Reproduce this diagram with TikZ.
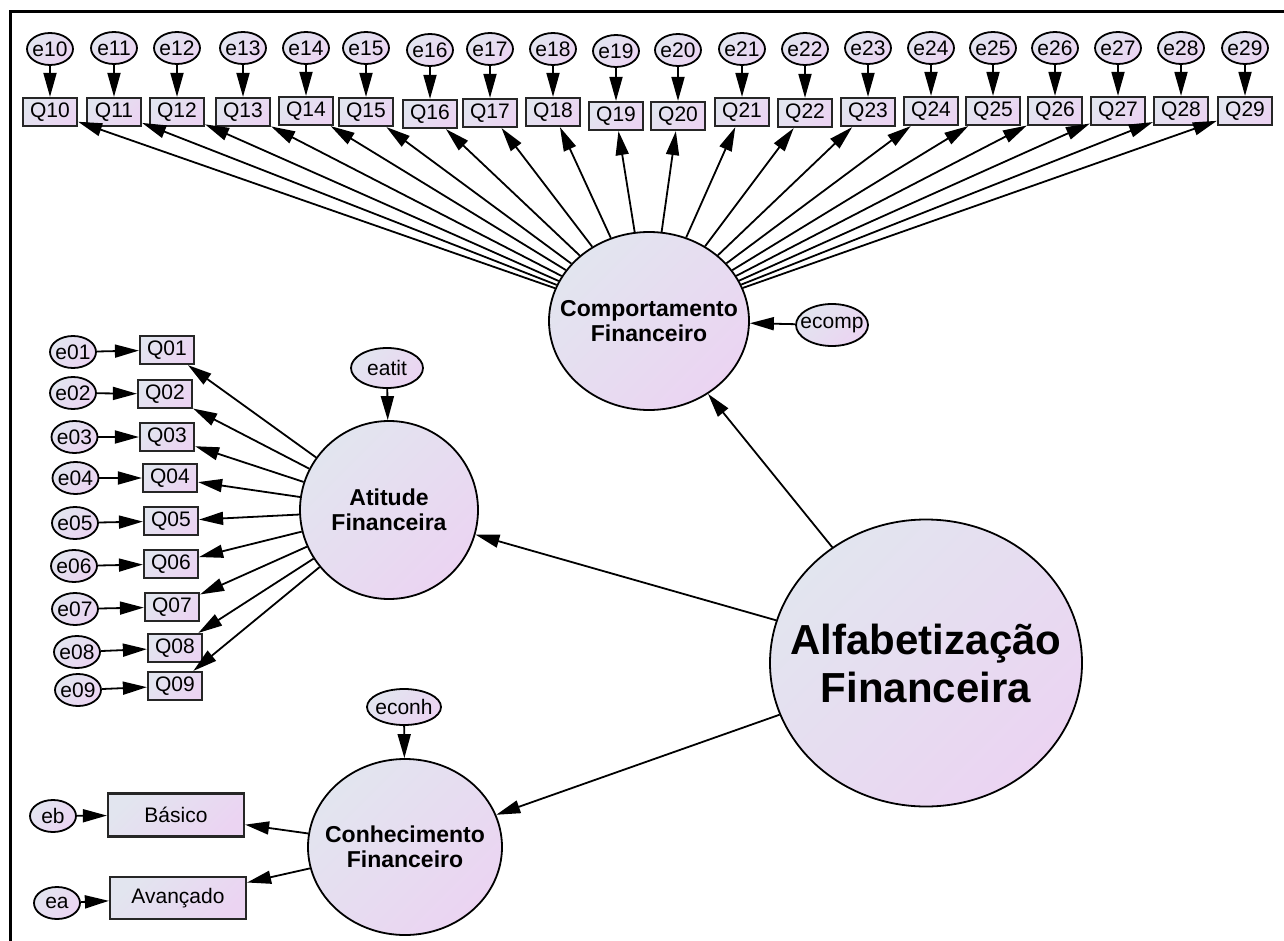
\documentclass[tikz,border=0pt]{standalone}
\usepackage{fontspec}
\setmainfont{Liberation Sans}
\usetikzlibrary{shapes.geometric,arrows.meta}
\definecolor{shadeA}{RGB}{226,229,239}
\definecolor{shadeB}{RGB}{235,212,242}
\tikzset{
  grad/.style={top color=shadeA, bottom color=shadeB, shading angle=45},
  errnode/.style={ellipse, draw=black, line width=1.8pt, grad, inner xsep=-10pt, inner ysep=0pt,
     minimum width=46pt, minimum height=32pt, font=\fontsize{21pt}{23pt}\selectfont},
  obsnode/.style={rectangle, draw=black!85, line width=2.2pt, grad, inner sep=0pt,
     minimum width=54pt, minimum height=28pt, font=\fontsize{21pt}{23pt}\selectfont},
  latnode/.style={ellipse, draw=black, line width=1.8pt, grad, inner sep=0pt},
  lattext/.style={align=center, inner sep=0pt, font=\fontsize{23pt}{25pt}\selectfont\bfseries},
  arr/.style={-{Triangle[length=24pt,width=13pt]}, line width=1.8pt},
}
\begin{document}
\begin{tikzpicture}[x=1pt,y=-1pt]
\useasboundingbox (0,0) rectangle (1284,941);
% frame
\draw[line width=3pt] (10,941) -- (10,12) -- (1284,12);
% top row
\foreach \i/\x/\ey/\qy in {10/50/49/112, 11/114/48/112, 12/177/48/112, 13/243/48/112,
  14/306/48/111, 15/366/48/112, 16/430/50/114, 17/490/49/113, 18/553/49/112,
  19/616/51/116, 20/678/50/116, 21/742/49/112, 22/805/49/113, 23/868/48/112,
  24/931/48/111, 25/993/48/111, 26/1055/48/111, 27/1118/48/111, 28/1181/48/111,
  29/1245/48/111}{
  \node[errnode] (e\i) at (\x,\ey) {e\i};
  \node[obsnode] (Q\i) at (\x,\qy) {Q\i};
  \draw[arr] (e\i) -- (Q\i);
}
% left column
\foreach \i/\ex/\ey/\qx/\qy in {01/73/352/167/350, 02/73/393/165/394, 03/74.5/437/167/437,
  04/75.5/478/170/478, 05/75/523/171/521, 06/74/566/171/564, 07/75/609/172/607,
  08/77/652/175/648, 09/78/690/175/686}{
  \node[errnode] (e\i) at (\ex,\ey) {e\i};
  \node[obsnode] (Q\i) at (\qx,\qy) {Q\i};
  \draw[arr] (e\i) -- (Q\i);
}
% latent variables
\node[latnode, minimum width=200pt, minimum height=178pt] (CF) at (649,321) {};
\node[lattext] (CFt) at (649,321) {Comportamento\\Financeiro};
\node[latnode, minimum width=178pt, minimum height=178pt] (AT) at (389,510) {};
\node[lattext] (ATt) at (389,510) {Atitude\\Financeira};
\node[latnode, minimum width=194pt, minimum height=176pt] (CO) at (405,847) {};
\node[lattext] (COt) at (405,847) {Conhecimento\\Financeiro};
\node[latnode, minimum width=312pt, minimum height=287pt] (AL) at (926,663) {};
\node[lattext, font=\fontsize{42pt}{48pt}\selectfont\bfseries] (ALt) at (926,663) {Alfabetização\\Financeira};
% disturbances
\node[errnode, minimum width=72pt, minimum height=42pt] (ecomp) at (832,325) {ecomp};
\node[errnode, minimum width=72pt, minimum height=40pt] (eatit) at (387,368) {eatit};
\node[errnode, minimum width=74pt, minimum height=36pt] (econh) at (404,707) {econh};
% knowledge indicators
\node[obsnode, minimum width=136pt, minimum height=43pt] (bas) at (176,815) {Básico};
\node[obsnode, minimum width=136pt, minimum height=42pt] (ava) at (178,898) {Avançado};
\node[errnode] (eb) at (53,816) {eb};
\node[errnode] (ea) at (57,903) {ea};
% connectors
\foreach \i in {10,...,29}{\draw[arr] (CF) -- (Q\i);}
\foreach \i in {01,02,03,04,05,06,07,08,09}{\draw[arr] (AT) -- (Q\i);}
\draw[arr] (ecomp) -- (CF);
\draw[arr] (eatit) -- (AT);
\draw[arr] (econh) -- (CO);
\draw[arr] (AL) -- (CF);
\draw[arr] (AL) -- (AT);
\draw[arr] (AL) -- (CO);
\draw[arr] (CO) -- (bas);
\draw[arr] (CO) -- (ava);
\draw[arr] (eb) -- (bas);
\draw[arr] (ea) -- (ava);
\end{tikzpicture}
\end{document}
